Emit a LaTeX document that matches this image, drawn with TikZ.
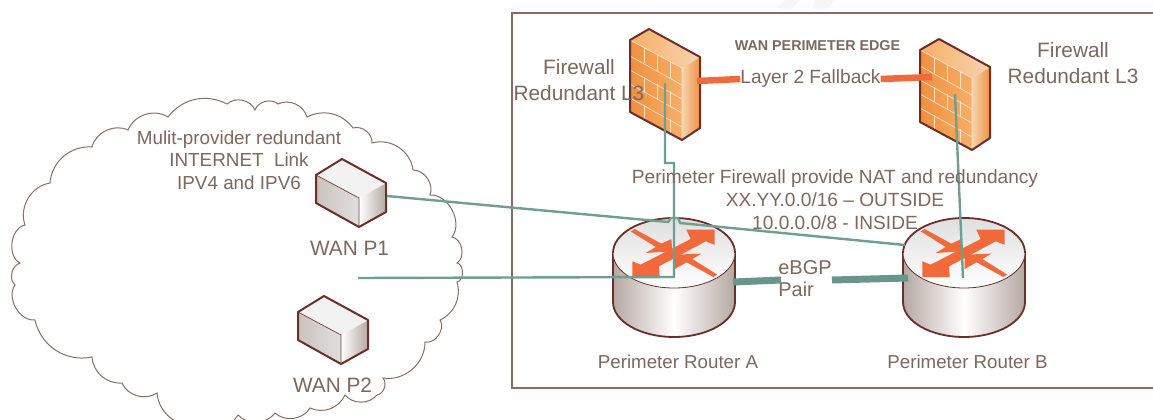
\documentclass[tikz,border=0pt]{standalone}
\usepackage{fontspec}
\setmainfont{Liberation Sans}
\definecolor{txt}{HTML}{7E675E}
\definecolor{edge}{HTML}{6B2F2A}
\definecolor{cloudc}{HTML}{8A6E66}
\definecolor{framec}{HTML}{8A6A62}
\definecolor{teal}{HTML}{6F9E92}
\definecolor{orng}{HTML}{F26A3C}
\definecolor{fwa}{HTML}{F0903E}
\definecolor{fwb}{HTML}{F6AE68}
\definecolor{fwc}{HTML}{F6D4AE}
\definecolor{fwd}{HTML}{EE9244}
\definecolor{fwl}{HTML}{FBE2C8}
\definecolor{rsh}{HTML}{B5A8A2}
\tikzset{
  lbl/.style={text=txt,align=center,inner sep=0pt,font=\fontsize{19.1}{23}\selectfont},
  biglbl/.style={lbl,font=\fontsize{20.8}{26}\selectfont},
  tealline/.style={draw=teal,line width=2.4pt},
  thickteal/.style={draw=teal!95!black,line width=7pt},
  orangelink/.style={draw=orng,line width=6.5pt},
}
% router at local origin (centre of top ellipse)
\newcommand{\routerpic}[2]{%
 \begin{scope}[shift={(#1,#2)}]
  \path[left color=rsh,right color=rsh,middle color=white]
    (-61,0) -- (-61,49) arc[start angle=180,end angle=0,x radius=61,y radius=35] -- (61,0) -- cycle;
  \draw[edge,line width=1.8pt] (-61,0) -- (-61,49) arc[start angle=180,end angle=0,x radius=61,y radius=35] -- (61,0);
  \path[top color=gray!25,bottom color=white] (0,0) ellipse[x radius=61,y radius=35];
  \draw[edge,line width=.8pt] (-61,0) arc[start angle=180,end angle=0,x radius=61,y radius=35];
  \draw[edge,line width=1.8pt] (-61,0) arc[start angle=180,end angle=360,x radius=61,y radius=35];
  \begin{scope}[x=0.3333pt,y=-0.3333pt]
   \fill[orng] (-130,-65) -- (-118,-72) -- (-38,-28) -- (-8,-42) -- (-5,-5) -- (-85,0) -- (-55,-18) -- cycle;
   \fill[orng] (-100,35) -- (50,-42) -- (37,-70) -- (122,-70) -- (122,-25) -- (95,-35) -- (-45,40) -- (-43,72) -- (-125,72) -- (-125,25) -- (-100,35) -- cycle;
   \fill[orng] (2,5) -- (82,2) -- (55,18) -- (130,65) -- (118,72) -- (38,28) -- (2,48) -- cycle;
  \end{scope}
 \end{scope}}
\newcommand{\firewallpic}[2]{%
 \begin{scope}[shift={(#1,#2)}]
  \path[left color=fwa,right color=fwb]
     (0,11) -- (52,39) -- (52,111) -- (0,83) -- cycle;
  \path[left color=fwc,right color=fwd]
     (52,39) -- (70,28) -- (70,99) -- (52,111) -- cycle;
  \path[left color=fwb,right color=fwc] (0,11) -- (19,0) -- (70,28) -- (52,39) -- cycle;
  \begin{scope}[draw=fwl,line width=.7pt]
   \draw (0,11) -- (52,39) -- (52,111);
   \draw (0,27) -- (52,56); \draw (0,41) -- (52,70); \draw (0,55) -- (52,84); \draw (0,69) -- (52,98);
   \draw (14,19) -- (14,34); \draw (27,26) -- (27,42); \draw (27,55) -- (27,71); \draw (40,33) -- (40,50);
   \draw (14,48) -- (14,63); \draw (40,62) -- (40,78); \draw (14,76) -- (14,91); \draw (40,90) -- (40,104);
  \end{scope}
  \draw[edge,line width=2pt,line join=round] (0,11) -- (19,0) -- (70,28) -- (70,99) -- (52,111) -- (0,83) -- cycle;
 \end{scope}}
\newcommand{\boxpic}[2]{%
 \begin{scope}[shift={(#1,#2)}]
  \path[left color=rsh!70,right color=gray!25] (0,16) -- (43,39) -- (43,68) -- (0,44) -- cycle;
  \path[left color=white,right color=rsh] (43,39) -- (70,24) -- (70,53) -- (43,68) -- cycle;
  \path[fill=gray!10] (0,16) -- (26,0) -- (70,24) -- (43,39) -- cycle;
  \draw[edge!80!gray,line width=.7pt] (0,16) -- (43,39) -- (43,68);
  \draw[edge,line width=2pt,line join=round] (0,16) -- (26,0) -- (70,24) -- (70,53) -- (43,68) -- (0,44) -- cycle;
 \end{scope}}
\begin{document}
\begin{tikzpicture}[x=1pt,y=-1pt]
\useasboundingbox (0,0) rectangle (1153,420);
\clip (0,0) rectangle (1153,420);
\fill[white] (0,0) rectangle (1153,420);
% faint watermark trace
\fill[gray!7] (776,8) -- (786,0) -- (800,0) -- (790,10) -- cycle;
\fill[gray!7] (815,0) -- (835,0) -- (826,9) -- (812,9) -- cycle;
% frame
\draw[framec,line width=1.6pt] (1153,13) -- (512,13) -- (512,388) -- (1153,388);
% cloud
\draw[cloudc,line width=1pt]
 (92,147) to[bend left=50] (128,130) to[bend left=50] (168,117) to[bend left=40] (227,104)
 to[bend left=55] (255,110) to[bend left=55] (278,104) to[bend left=50] (307,117) to[bend left=40] (353,128)
 to[bend left=55] (372,143) to[bend left=50] (413,170) to[bend left=55] (430,195) to[bend left=65] (452,237)
 to[bend left=70] (457,263) to[bend left=80] (457,282) to[bend left=40] (440,320)
 to[bend left=70] (425,342) to[bend left=50] (383,378) to[bend left=60] (377,395) to[bend left=50] (345,395)
 to[bend left=45] (310,408) to[bend left=50] (275,413) to[bend left=50] (238,415) to[bend left=45] (195,425)
 to[bend left=45] (157,393) to[bend left=50] (122,383) to[bend left=45] (92,357) to[bend left=45] (35,320)
 to[bend left=65] (15,285) to[bend left=60] (20,263) to[bend left=70] (25,225) to[bend left=50] (50,183) to[bend left=45] cycle;
% devices
\boxpic{316}{159}
\boxpic{298}{296}
\routerpic{674}{253}
\routerpic{964}{253}
\firewallpic{630}{29}
\firewallpic{920}{39}
% anchors
\coordinate (fwA) at (665,83);
\coordinate (fwB) at (955,94);
\coordinate (rtA) at (674,277);
\coordinate (rtB) at (963,278);
\coordinate (wp1) at (387,196);
\coordinate (wfree) at (358,278);
\coordinate (bendA) at (665,163);
\coordinate (bendB) at (674,163);
\coordinate (rtAE) at (733,282);
\coordinate (rtBW) at (908,278);
\coordinate (fwAE) at (697,81);
\coordinate (fwBW) at (932,77);
% teal links
\draw[tealline] (fwA) -- (bendA) -- (bendB) -- (rtA) -- (wfree);
\draw[tealline] (wp1) -- (668,222) -- (671,218) -- (678,218) -- (680,223) -- (905,245);
\draw[tealline] (fwB) -- (rtB);
% labels
\node[biglbl] (fa) at (579,80) {Firewall\\Redundant L3};
\node[biglbl] (fb) at (1073,63) {Firewall\\Redundant L3};
\node[lbl,font=\bfseries\fontsize{14.3}{17}\selectfont] (edgeT) at (817.5,46) {WAN PERIMETER EDGE};
\node[lbl] (l2) at (810.5,79) {Layer 2 Fallback};
\draw[orangelink] (fwAE) -- (l2.west);
\draw[orangelink] (l2.east) -- (fwBW);
\node[lbl] (nat) at (835,200) {Perimeter Firewall provide NAT and redundancy\\XX.YY.0.0/16 – OUTSIDE\\10.0.0.0/8 - INSIDE};
\node[lbl,align=left,font=\fontsize{20}{22}\selectfont] (bgp) at (805,279) {eBGP\\Pair};
\draw[thickteal] (rtAE) -- (781,280);
\draw[thickteal] (832,280) -- (rtBW);
\node[lbl,font=\fontsize{18.7}{23}\selectfont] (pa) at (678,362) {Perimeter Router A};
\node[lbl,font=\fontsize{18.7}{23}\selectfont] (pb) at (967.5,362) {Perimeter Router B};
\node[lbl,font=\fontsize{18.85}{22.5}\selectfont] (mp) at (239,160) {Mulit-provider redundant\\INTERNET\ \ Link\\IPV4 and IPV6};
\node[biglbl] (w1) at (349.5,248) {WAN P1};
\node[biglbl] (w2) at (332.5,385) {WAN P2};
\end{tikzpicture}
\end{document}
